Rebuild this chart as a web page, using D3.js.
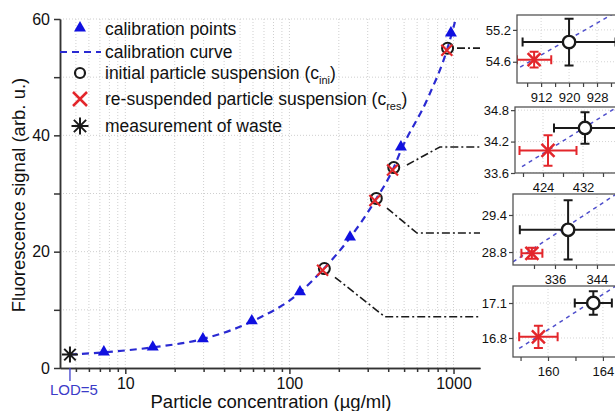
<!DOCTYPE html>
<html>
<head>
<meta charset="utf-8">
<script src="https://cdn.jsdelivr.net/npm/d3@7"></script>
<style>
  body { margin: 0; background: #fff; }
  text { font-family: "Liberation Sans", Arial, sans-serif; fill: #111; }
</style>
</head>
<body>
<svg id="chart" width="615" height="411"></svg>
<script>
// main plot ticks
var xMajorTicks = [10, 100, 1000];
var xMinorTicks = [5, 6, 7, 8, 9, 20, 30, 40, 50, 60, 70, 80, 90, 200, 300, 400, 500, 600, 700, 800, 900];
var yMajorTicks = [0, 20, 40, 60];
var yMinorTicks = [10, 30, 50];

// calibration standards (blue triangles)
var calX = [7.4, 14.7, 29.7, 59, 116, 234, 478, 964];
var calY = [2.75, 3.6, 5.0, 8.1, 13.1, 22.5, 38.0, 57.6];

// calibration curve
var curveX = [4.6, 7.4, 14.7, 29.7, 59, 116, 160, 234, 335, 430, 478, 700, 920, 1020];
var curveY = [2.3, 2.7, 3.55, 5.0, 8.0, 13.0, 16.9, 22.4, 28.9, 34.3, 37.4, 46.5, 55.0, 59.5];

// initial / re-suspended particle suspensions, top inset first
var iniX = [920, 432.4, 338.5, 163.3];
var iniY = [54.97, 34.46, 29.16, 17.1];
var iniXErr = [13.3, 6.2, 9.2, 1.35];
var iniYErr = [0.44, 0.3, 0.48, 0.1];
var resX = [910, 425, 331.6, 159.3];
var resY = [54.64, 34.03, 28.78, 16.81];
var resXErr = [4.9, 5.7, 2.0, 1.4];
var resYErr = [0.15, 0.29, 0.09, 0.095];

// waste measurement and limit of detection
var wasteX = 4.6, wasteY = 2.3;
var lodX = 4.6, lodLabel = "LOD=5";

// leader lines from the points to the insets (main plot units)
var leaderX = [[1050, 1450], [520, 826, 1450], [393, 599, 1450], [189.5, 382, 1450]];
var leaderY = [[55, 55], [34.9, 38.0, 38.0], [27.5, 23.2, 23.2], [15.6, 8.8, 8.8]];

// insets
var insetXDomain = [[905.1, 940.3], [418.4, 443.4], [328, 352.2], [157.45, 166.7]];
var insetYDomain = [[54.2, 55.48], [33.6, 34.86], [28.59, 29.74], [16.637, 17.246]];
var insetXLabels = [[912, 920, 928], [424, 432], [336, 344], [160, 164]];
var insetXMinor = [[908, 916, 924, 932], [420, 428, 436], [332, 340, 348], [158, 162, 166]];
var insetYLabels = [[54.6, 55.2], [33.6, 34.2, 34.8], [28.8, 29.4], [16.8, 17.1]];
var insetLineX = [[906, 940], [419.8, 443], [328, 352], [157.9, 166.7]];
var insetLineY = [[54.5, 55.78], [33.72, 35.11], [28.64, 29.98], [16.71, 17.38]];

var BLUE = "#1010e0", CURVE = "#2a2ad2", RED = "#e3262b", BLACK = "#1a1a1a";

var svg = d3.select("#chart");

var x = d3.scaleLog().domain([4, 1450]).range([60, 480]);
var y = d3.scaleLinear().domain([0, 60]).range([368, 19]);

// grid
var grid = svg.append("g").attr("class", "grid")
  .attr("stroke", "#cfcfcf").attr("stroke-width", 1).attr("stroke-dasharray", "1,2");
grid.selectAll("line.v").data(xMajorTicks.concat(xMinorTicks)).enter().append("line")
  .attr("x1", function (d) { return x(d); }).attr("x2", function (d) { return x(d); })
  .attr("y1", y(0)).attr("y2", y(60));
grid.selectAll("line.h").data(yMajorTicks.concat(yMinorTicks).filter(function (d) { return d > 0; }))
  .enter().append("line")
  .attr("x1", x(4)).attr("x2", x(1450))
  .attr("y1", function (d) { return y(d); }).attr("y2", function (d) { return y(d); });

// axes
function styleAxis(g) {
  g.selectAll("path, line").attr("stroke", "#333").attr("stroke-width", 1.5);
  g.selectAll("text").attr("fill", "#111").attr("font-family", "Liberation Sans, Arial, sans-serif");
}

svg.append("g").attr("transform", "translate(0," + y(0) + ")")
  .call(d3.axisBottom(x).tickValues(xMinorTicks).tickFormat("").tickSize(4).tickSizeOuter(0))
  .call(styleAxis);
svg.append("g").attr("transform", "translate(0," + y(0) + ")")
  .call(d3.axisBottom(x).tickValues(xMajorTicks).tickFormat(d3.format("d")).tickSize(6).tickPadding(4).tickSizeOuter(0))
  .call(styleAxis)
  .selectAll("text").attr("font-size", 16);

svg.append("g").attr("transform", "translate(" + x(4) + ",0)")
  .call(d3.axisLeft(y).tickValues(yMinorTicks).tickFormat("").tickSize(6).tickSizeOuter(0))
  .call(styleAxis);
svg.append("g").attr("transform", "translate(" + x(4) + ",0)")
  .call(d3.axisLeft(y).tickValues(yMajorTicks).tickSize(6).tickPadding(4).tickSizeOuter(0))
  .call(styleAxis)
  .selectAll("text").attr("font-size", 16);

// axis titles
svg.append("text")
  .attr("x", 271).attr("y", 408)
  .attr("text-anchor", "middle").attr("font-size", 18.5)
  .text("Particle concentration (\u00b5g/ml)");
svg.append("text")
  .attr("transform", "translate(25,195) rotate(-90)")
  .attr("text-anchor", "middle").attr("font-size", 18.5)
  .text("Fluorescence signal (arb. u.)");

// LOD marker
svg.append("line")
  .attr("x1", x(lodX)).attr("x2", x(lodX))
  .attr("y1", y(0)).attr("y2", 381)
  .attr("stroke", "#4040cc").attr("stroke-width", 1.3);
svg.append("text")
  .attr("x", x(lodX) + 4).attr("y", 395)
  .attr("text-anchor", "middle").attr("font-size", 15)
  .style("fill", "#3b3bc8")
  .text(lodLabel);

// leader lines
var leader = d3.line().x(function (d) { return x(d[0]); }).y(function (d) { return y(d[1]); });
svg.append("g").selectAll("path").data(leaderX.map(function (xs, i) {
    return xs.map(function (v, j) { return [v, leaderY[i][j]]; });
  }))
  .enter().append("path")
  .attr("d", leader)
  .attr("fill", "none").attr("stroke", BLACK).attr("stroke-width", 1.6)
  .attr("stroke-dasharray", "8,3,2,3");

// calibration curve
var curve = d3.line().curve(d3.curveMonotoneX)
  .x(function (d) { return x(d[0]); }).y(function (d) { return y(d[1]); });
svg.append("path")
  .datum(curveX.map(function (v, i) { return [v, curveY[i]]; }))
  .attr("d", curve)
  .attr("fill", "none").attr("stroke", CURVE).attr("stroke-width", 2.2)
  .attr("stroke-dasharray", "7,5");

// marker helpers
function drawCross(g, cx, cy, r, color, w) {
  g.append("path")
    .attr("d", "M" + (cx - r) + "," + (cy - r) + "L" + (cx + r) + "," + (cy + r) +
               "M" + (cx - r) + "," + (cy + r) + "L" + (cx + r) + "," + (cy - r))
    .attr("stroke", color).attr("stroke-width", w).attr("fill", "none");
}
function drawAsterisk(g, cx, cy, r) {
  var d = r * 0.72;
  g.append("path")
    .attr("d", "M" + (cx - r) + "," + cy + "L" + (cx + r) + "," + cy +
               "M" + cx + "," + (cy - r) + "L" + cx + "," + (cy + r) +
               "M" + (cx - d) + "," + (cy - d) + "L" + (cx + d) + "," + (cy + d) +
               "M" + (cx - d) + "," + (cy + d) + "L" + (cx + d) + "," + (cy - d))
    .attr("stroke", BLACK).attr("stroke-width", 2).attr("fill", "none");
}
var triangle = d3.symbol().type(d3.symbolTriangle).size(62);

// calibration points
svg.append("g").selectAll("path").data(calX).enter().append("path")
  .attr("d", triangle)
  .attr("transform", function (d, i) { return "translate(" + x(d) + "," + y(calY[i]) + ")"; })
  .attr("fill", BLUE);

// initial and re-suspended samples
var pts = svg.append("g");
iniX.forEach(function (v, i) {
  pts.append("circle")
    .attr("cx", x(v)).attr("cy", y(iniY[i])).attr("r", 5.5)
    .attr("fill", "none").attr("stroke", BLACK).attr("stroke-width", 2);
});
resX.forEach(function (v, i) {
  drawCross(pts, x(v), y(resY[i]), 5.5, RED, 2.2);
});

// waste
drawAsterisk(svg, x(wasteX), y(wasteY), 8);

// legend
var lg = svg.append("g").attr("font-size", 17.5);
var legendX = 80, legendTextX = 105;
lg.append("path").attr("d", triangle).attr("fill", BLUE)
  .attr("transform", "translate(" + legendX + ",28)");
lg.append("line").attr("x1", 60).attr("x2", 101).attr("y1", 52).attr("y2", 52)
  .attr("stroke", CURVE).attr("stroke-width", 2).attr("stroke-dasharray", "7,5");
lg.append("circle").attr("cx", legendX).attr("cy", 73).attr("r", 5)
  .attr("fill", "none").attr("stroke", BLACK).attr("stroke-width", 2.2);
drawCross(lg, legendX, 99, 7, RED, 2.5);
drawAsterisk(lg, legendX, 126, 8.5);

lg.append("text").attr("x", legendTextX).attr("y", 35).text("calibration points");
lg.append("text").attr("x", legendTextX).attr("y", 58).text("calibration curve");
var t3 = lg.append("text").attr("x", legendTextX).attr("y", 79);
t3.append("tspan").text("initial particle suspension (c");
t3.append("tspan").attr("font-size", 11).attr("dy", 5).text("ini");
t3.append("tspan").attr("dy", -5).text(")");
var t4 = lg.append("text").attr("x", legendTextX).attr("y", 105);
t4.append("tspan").text("re-suspended particle suspension (c");
t4.append("tspan").attr("font-size", 11).attr("dy", 5).text("res");
t4.append("tspan").attr("dy", -5).text(")");
lg.append("text").attr("x", legendTextX).attr("y", 132).text("measurement of waste");

// insets, top to bottom: left, top, bottom of each frame
var insetBox = [[517, 15, 83], [515, 107, 173], [513, 194, 265], [513, 286, 357]];
var defs = svg.append("defs");

function errorPoint(g, sx, sy, cx, cy, ex, ey, color, cap) {
  var px = sx(cx), py = sy(cy);
  var x0 = sx(cx - ex), x1 = sx(cx + ex), y0 = sy(cy - ey), y1 = sy(cy + ey);
  var d = "M" + x0 + "," + py + "L" + x1 + "," + py +
          "M" + x0 + "," + (py - cap) + "L" + x0 + "," + (py + cap) +
          "M" + x1 + "," + (py - cap) + "L" + x1 + "," + (py + cap) +
          "M" + px + "," + y0 + "L" + px + "," + y1 +
          "M" + (px - cap) + "," + y0 + "L" + (px + cap) + "," + y0 +
          "M" + (px - cap) + "," + y1 + "L" + (px + cap) + "," + y1;
  g.append("path").attr("d", d).attr("stroke", color).attr("stroke-width", 2).attr("fill", "none");
}

insetBox.forEach(function (b, i) {
  var left = b[0], top = b[1], bottom = b[2], right = 640;
  var sx = d3.scaleLinear().domain(insetXDomain[i]).range([left, right]);
  var sy = d3.scaleLinear().domain(insetYDomain[i]).range([bottom, top]);
  var g = svg.append("g");

  defs.append("clipPath").attr("id", "clip" + i)
    .append("rect").attr("x", left).attr("y", top)
    .attr("width", right - left).attr("height", bottom - top);

  g.append("rect").attr("x", left).attr("y", top)
    .attr("width", right - left).attr("height", bottom - top)
    .attr("fill", "#fff");

  var inner = g.append("g").attr("clip-path", "url(#clip" + i + ")");
  // grid
  inner.selectAll("line.v").data(insetXLabels[i]).enter().append("line")
    .attr("x1", function (d) { return sx(d); }).attr("x2", function (d) { return sx(d); })
    .attr("y1", top).attr("y2", bottom)
    .attr("stroke", "#d4d4d4").attr("stroke-dasharray", "1,2");
  inner.selectAll("line.h").data(insetYLabels[i]).enter().append("line")
    .attr("x1", left).attr("x2", right)
    .attr("y1", function (d) { return sy(d); }).attr("y2", function (d) { return sy(d); })
    .attr("stroke", "#d4d4d4").attr("stroke-dasharray", "1,2");

  // local calibration line
  inner.append("line")
    .attr("x1", sx(insetLineX[i][0])).attr("y1", sy(insetLineY[i][0]))
    .attr("x2", sx(insetLineX[i][1])).attr("y2", sy(insetLineY[i][1]))
    .attr("stroke", "#4f4fcc").attr("stroke-width", 1.5).attr("stroke-dasharray", "4,4");

  errorPoint(inner, sx, sy, iniX[i], iniY[i], iniXErr[i], iniYErr[i], BLACK, 4.5);
  inner.append("circle").attr("cx", sx(iniX[i])).attr("cy", sy(iniY[i])).attr("r", 6.2)
    .attr("fill", "#fff").attr("stroke", BLACK).attr("stroke-width", 2.4);
  errorPoint(inner, sx, sy, resX[i], resY[i], resXErr[i], resYErr[i], RED, 4.5);
  drawCross(inner, sx(resX[i]), sy(resY[i]), 6.5, RED, 2.5);

  // frame
  g.append("rect").attr("x", left).attr("y", top)
    .attr("width", right - left).attr("height", bottom - top)
    .attr("fill", "none").attr("stroke", "#555").attr("stroke-width", 1.3);

  // axes
  g.append("g").attr("transform", "translate(0," + bottom + ")")
    .call(d3.axisBottom(sx).tickValues(insetXMinor[i]).tickFormat("").tickSize(4).tickSizeOuter(0))
    .call(function (a) { a.select(".domain").remove(); a.selectAll("line").attr("stroke", "#444").attr("stroke-width", 1.2); });
  g.append("g").attr("transform", "translate(0," + bottom + ")")
    .call(d3.axisBottom(sx).tickValues(insetXLabels[i]).tickFormat(d3.format("d")).tickSize(4).tickPadding(6).tickSizeOuter(0))
    .call(function (a) {
      a.select(".domain").remove();
      a.selectAll("line").attr("stroke", "#444").attr("stroke-width", 1.2);
      a.selectAll("text").attr("font-size", 13).attr("fill", "#111")
        .attr("font-family", "Liberation Sans, Arial, sans-serif");
    });
  g.append("g").attr("transform", "translate(" + left + ",0)")
    .call(d3.axisLeft(sy).tickValues(insetYLabels[i]).tickFormat(d3.format(".1f")).tickSize(4).tickPadding(2).tickSizeOuter(0))
    .call(function (a) {
      a.select(".domain").remove();
      a.selectAll("line").attr("stroke", "#444").attr("stroke-width", 1.2);
      a.selectAll("text").attr("font-size", 13).attr("fill", "#111")
        .attr("font-family", "Liberation Sans, Arial, sans-serif");
    });
});
</script>
</body>
</html>
